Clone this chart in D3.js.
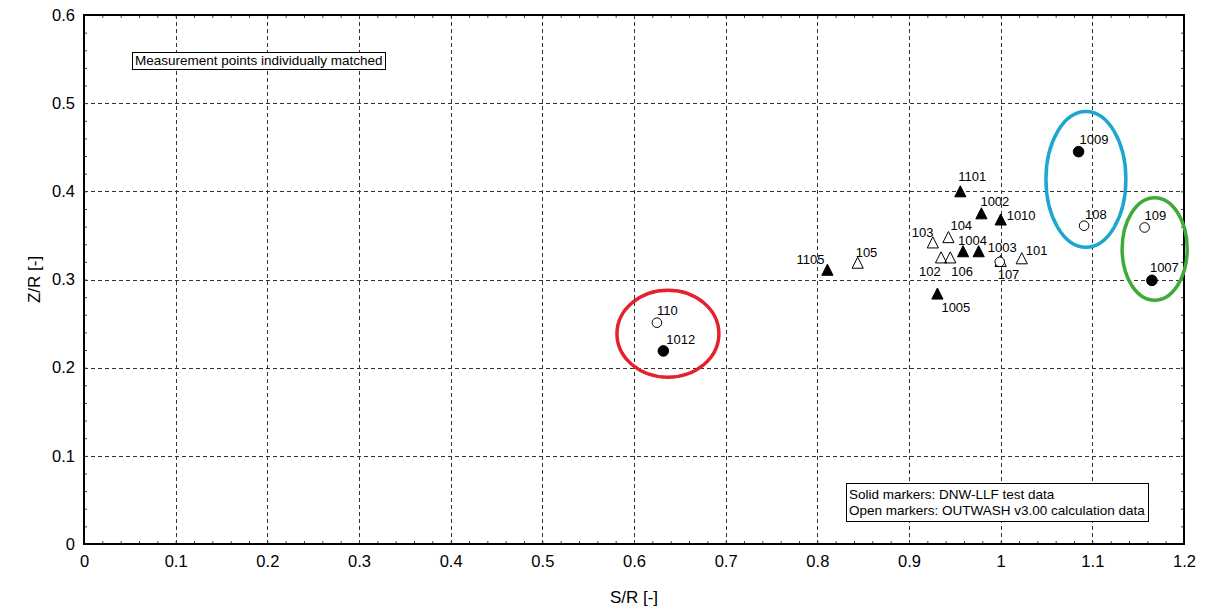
<!DOCTYPE html>
<html>
<head>
<meta charset="utf-8">
<script src="https://cdn.jsdelivr.net/npm/d3@7"></script>
<style>
  body { margin: 0; background: #fff; }
  svg text { font-family: "Liberation Sans", Arial, sans-serif; fill: #000; }
</style>
</head>
<body>
<svg width="1208" height="610"></svg>
<script>
// measured points: S/R and Z/R, marker kind (solid = DNW-LLF, open = OUTWASH)
var pointLabels = ["1101", "1002", "1010", "1004", "", "1105", "1005",
                   "105", "103", "104", "102", "106", "101", "107",
                   "1003", "1009", "108", "109", "1007", "110", "1012"];
var pointSR = [0.956, 0.979, 1.000, 0.959, 0.976, 0.811, 0.931,
               0.844, 0.926, 0.943, 0.935, 0.945, 1.023, 1.000,
               0.999, 1.085, 1.091, 1.157, 1.165, 0.625, 0.632];
var pointZR = [0.399, 0.374, 0.367, 0.331, 0.331, 0.310, 0.283,
               0.318, 0.341, 0.347, 0.324, 0.324, 0.323, 0.320,
               0.320, 0.445, 0.361, 0.359, 0.299, 0.251, 0.219];
var pointKind = ["triSolid", "triSolid", "triSolid", "triSolid", "triSolid", "triSolid", "triSolid",
                 "triOpen", "triOpen", "triOpen", "triOpen", "triOpen", "triOpen", "triOpen",
                 "dotOpen", "dotSolid", "dotOpen", "dotOpen", "dotSolid", "dotOpen", "dotSolid"];

// highlight ellipses (centre and half-axes in data units)
var ellipseSR = [0.637, 1.093, 1.168];
var ellipseZR = [0.2385, 0.4136, 0.3346];
var ellipseHalfSR = [0.0556, 0.0436, 0.0355];
var ellipseHalfZR = [0.0493, 0.0770, 0.0581];
var ellipseColors = ["#e5212b", "#1ea6d0", "#3dab35"];

var xTickLabels = ["0", "0.1", "0.2", "0.3", "0.4", "0.5", "0.6", "0.7", "0.8", "0.9", "1", "1.1", "1.2"];
var yTickLabels = ["0", "0.1", "0.2", "0.3", "0.4", "0.5", "0.6"];

var noteText = "Measurement points individually matched";
var legendLines = ["Solid markers: DNW-LLF test data", "Open markers: OUTWASH v3.00 calculation data"];

var svg = d3.select("svg"),
    plotL = 84, plotR = 1184, plotT = 15, plotB = 544;

var x = d3.scaleLinear().domain([0, 1.2]).range([plotL, plotR]);
var y = d3.scaleLinear().domain([0, 0.6]).range([plotB, plotT]);

// label offsets from the marker, in px
var labelOffset = {
  "1101": [-2, -11], "1002": [-1, -8], "1010": [6, 0], "1004": [-5, -7],
  "1105": [-31, -7], "1005": [4, 18], "105": [-2, -7], "103": [-21, -6],
  "104": [2, -8], "102": [-22, 18], "106": [1, 18], "101": [4, -4],
  "107": [-3, 17], "1003": [-12, -10], "1009": [1, -8], "108": [1, -7],
  "109": [0, -7], "1007": [-2, -8], "110": [0, -8], "1012": [3, -7]
};

var points = pointLabels.map(function(l, i) {
  return { label: l, sr: pointSR[i], zr: pointZR[i], kind: pointKind[i] };
});

// grid
var grid = svg.append("g").attr("stroke", "#333").attr("stroke-dasharray", "4,3").attr("stroke-width", 1);
grid.selectAll(".gx").data(x.ticks(12).slice(1, -1)).enter().append("line")
    .attr("x1", function(d) { return Math.round(x(d)) + 0.5; })
    .attr("x2", function(d) { return Math.round(x(d)) + 0.5; })
    .attr("y1", plotT).attr("y2", plotB);
grid.selectAll(".gy").data(y.ticks(6).slice(1, -1)).enter().append("line")
    .attr("y1", function(d) { return Math.round(y(d)) + 0.5; })
    .attr("y2", function(d) { return Math.round(y(d)) + 0.5; })
    .attr("x1", plotL).attr("x2", plotR);

// minor/major inward ticks on all four sides
function tickAxis(axis, tr) {
  var g = svg.append("g").attr("transform", tr).call(axis);
  g.select(".domain").remove();
  g.selectAll("text").remove();
  g.selectAll("line").attr("stroke", "#444");
}
tickAxis(d3.axisBottom(x).ticks(60).tickSizeInner(-3).tickSizeOuter(0), "translate(0," + plotB + ")");
tickAxis(d3.axisTop(x).ticks(60).tickSizeInner(-3).tickSizeOuter(0), "translate(0," + plotT + ")");
tickAxis(d3.axisLeft(y).ticks(30).tickSizeInner(-3).tickSizeOuter(0), "translate(" + plotL + ",0)");
tickAxis(d3.axisRight(y).ticks(30).tickSizeInner(-3).tickSizeOuter(0), "translate(" + plotR + ",0)");

// tick labels
var xAxis = svg.append("g").attr("transform", "translate(0," + plotB + ")")
    .call(d3.axisBottom(x).ticks(12).tickSize(0).tickPadding(11)
      .tickFormat(function(d, i) { return xTickLabels[i]; }));
xAxis.select(".domain").remove();
xAxis.selectAll("text").style("font-size", "16.5px").style("font-family", "Liberation Sans, Arial, sans-serif");

var yAxis = svg.append("g").attr("transform", "translate(" + plotL + ",0)")
    .call(d3.axisLeft(y).ticks(6).tickSize(0).tickPadding(9)
      .tickFormat(function(d, i) { return yTickLabels[i]; }));
yAxis.select(".domain").remove();
yAxis.selectAll("text").style("font-size", "16.5px").style("font-family", "Liberation Sans, Arial, sans-serif");

// frame
svg.append("rect").attr("x", plotL).attr("y", plotT).attr("width", plotR - plotL).attr("height", plotB - plotT)
    .attr("fill", "none").attr("stroke", "#000").attr("stroke-width", 2);

// axis titles
svg.append("text").attr("x", (plotL + plotR) / 2).attr("y", 603).attr("text-anchor", "middle")
    .style("font-size", "17px").text("S/R [-]");
svg.append("text").attr("transform", "translate(40," + (plotT + plotB) / 2 + ") rotate(-90)")
    .attr("text-anchor", "middle").style("font-size", "17px").text("Z/R [-]");

// markers
var mk = svg.append("g");
mk.selectAll("path.tri").data(points.filter(function(d) { return d.kind.indexOf("tri") === 0; }))
  .enter().append("path")
    .attr("d", "M0,-6.5L5.6,4.6L-5.6,4.6Z")
    .attr("transform", function(d) { return "translate(" + x(d.sr) + "," + y(d.zr) + ")"; })
    .attr("fill", function(d) { return d.kind === "triSolid" ? "#000" : "none"; })
    .attr("stroke", "#000").attr("stroke-width", 1);
mk.selectAll("circle").data(points.filter(function(d) { return d.kind.indexOf("dot") === 0; }))
  .enter().append("circle")
    .attr("cx", function(d) { return x(d.sr); })
    .attr("cy", function(d) { return y(d.zr); })
    .attr("r", function(d) { return d.kind === "dotSolid" ? 5.3 : 4.8; })
    .attr("fill", function(d) { return d.kind === "dotSolid" ? "#000" : "#fff"; })
    .attr("stroke", "#000").attr("stroke-width", 1);

// point labels
svg.append("g").selectAll("text").data(points.filter(function(d) { return d.label; }))
  .enter().append("text")
    .attr("x", function(d) { return x(d.sr) + labelOffset[d.label][0]; })
    .attr("y", function(d) { return y(d.zr) + labelOffset[d.label][1]; })
    .style("font-size", "13px")
    .text(function(d) { return d.label; });

// ellipses
svg.append("g").selectAll("ellipse").data(ellipseSR).enter().append("ellipse")
    .attr("cx", function(d) { return x(d); })
    .attr("cy", function(d, i) { return y(ellipseZR[i]); })
    .attr("rx", function(d, i) { return x(ellipseHalfSR[i]) - x(0); })
    .attr("ry", function(d, i) { return y(0) - y(ellipseHalfZR[i]); })
    .attr("fill", "none")
    .attr("stroke", function(d, i) { return ellipseColors[i]; })
    .attr("stroke-width", 3.5);

// text boxes
function textBox(lines, bx, by, firstBase, lineH, boxH) {
  var g = svg.append("g");
  var rect = g.append("rect").attr("fill", "#fff").attr("stroke", "#000").attr("stroke-width", 1);
  var t = g.append("text").style("font-size", "13.5px");
  lines.forEach(function(l, i) {
    t.append("tspan").attr("x", bx + 3).attr("y", by + firstBase + i * lineH).text(l);
  });
  var bb = t.node().getBBox();
  rect.attr("x", bx + 0.5).attr("y", by + 0.5)
      .attr("width", Math.ceil(bb.width) + 5).attr("height", boxH);
}
textBox([noteText], 132, 52, 12.5, 16, 17);
textBox(legendLines, 846, 483, 15.5, 16, 38);
</script>
</body>
</html>
